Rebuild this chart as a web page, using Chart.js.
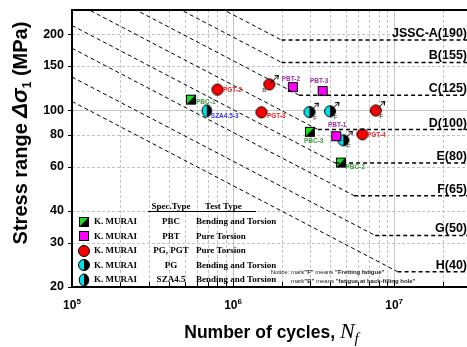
<!DOCTYPE html>
<html>
<head>
<meta charset="utf-8">
<script src="https://cdn.jsdelivr.net/npm/chart.js@4"></script>
<style>
  html, body { margin: 0; padding: 0; background: #fff; overflow: hidden; }
  #wrap { width: 471px; height: 347px; }
</style>
</head>
<body>
<div id="wrap"><canvas id="sn-chart" width="471" height="347"></canvas></div>
<script>
const chartEl = document.getElementById("sn-chart");

// JSSC design S-N curves: start at 1e5 cycles, knee, then flat to the right edge
const curveNames = ["JSSC-A(190)", "B(155)", "C(125)", "D(100)", "E(80)", "F(65)", "G(50)", "H(40)"];
const curveStartCycles = 1e5;
const curveEndCycles = 3e7;
const curveStartStress = [515.7, 420.7, 339.3, 271.4, 217.1, 176.4, 135.7, 108.6];
const curveKneeCycles = [2.0e6, 2.0e6, 2.57e6, 3.37e6, 4.3e6, 5.64e6, 7.63e6, 1.05e7];
const curveCutoffStress = [190, 155, 115, 84, 62, 46, 32, 23];

// test results (K. MURAI)
const pbcCycles = [5.48e5, 3.0e6, 4.67e6];
const pbcStress = [110.4, 82.3, 62.2];
const pbcNames = ["PBC-1", "PBC-3", "PBC-2"];

const pbtCycles = [2.35e6, 3.6e6, 4.37e6];
const pbtStress = [123.8, 119.4, 79.1];
const pbtNames = ["PBT-2", "PBT-3", "PBT-1"];

const pgtCycles = [8.0e5, 1.5e6, 1.68e6, 6.35e6, 7.69e6];
const pgtStress = [121, 98.4, 126.9, 80.5, 100];
const pgtNames = ["PGT-2", "PGT-3", "", "PGT-4", ""];
const pgtMarks = ["", "", "B", "", "F"];

const pgCycles = [2.98e6, 4.0e6, 4.84e6];
const pgStress = [98.6, 99.3, 76.2];
const pgMarks = ["F", "F", "F"];

const szaCycles = [6.87e5];
const szaStress = [99.8];
const szaNames = ["SZA4.5-3"];

// axes
const xMajor = [1e5, 1e6, 1e7];
const xMinor = [2e5, 3e5, 4e5, 5e5, 6e5, 7e5, 8e5, 9e5,
                2e6, 3e6, 4e6, 5e6, 6e6, 7e6, 8e6, 9e6, 2e7, 3e7];
const xExponents = ["5", "6", "7"];
const yTicks = [20, 30, 40, 60, 80, 100, 150, 200];

// legend table
const legendAuthors = ["K. MURAI", "K. MURAI", "K. MURAI", "K. MURAI", "K. MURAI"];
const legendSpec = ["PBC", "PBT", "PG, PGT", "PG", "SZA4.5"];
const legendTest = ["Bending and Torsion", "Pure Torsion", "Pure Torsion", "Bending and Torsion", "Bending and Torsion"];
const legendKinds = ["pbc", "pbt", "pgt", "pg", "sza"];

// label offsets (px) relative to the marker: [dx, dy, align]
const labelPlace = {
  "PBC-1": [5, 3, "left"], "PBC-3": [-6, 9.5, "left"], "PBC-2": [4.5, 4.5, "left"],
  "PBT-2": [-2, -8, "center"], "PBT-3": [-3.5, -9.5, "center"], "PBT-1": [1, -11, "center"],
  "PGT-2": [5.5, 0.8, "left"], "PGT-3": [5.5, 3.7, "left"], "PGT-4": [4.5, 0.8, "left"],
  "SZA4.5-3": [4, 5, "left"],
};
const labelColor = { pbc: "#3c9a3c", pbt: "#a02ca8", pgt: "#ff2020", sza: "#3535f0" };

const SANS = "'Liberation Sans', Arial, sans-serif";
const SERIF = "'Liberation Serif', 'Times New Roman', serif";

function makeMarker(kind) {
  const c = document.createElement("canvas");
  c.width = 14;
  c.height = 14;
  const g = c.getContext("2d");
  g.lineWidth = 1;
  g.strokeStyle = "#000";
  if (kind === "pbc") {
    g.fillStyle = "#000";
    g.fillRect(2, 2, 10, 10);
    g.fillStyle = "#1ee01e";
    g.beginPath();
    g.moveTo(2, 2); g.lineTo(12, 2); g.lineTo(2, 12);
    g.closePath();
    g.fill();
    g.strokeRect(2.5, 2.5, 9, 9);
  } else if (kind === "pbt") {
    g.fillStyle = "#ff00ff";
    g.fillRect(2, 2, 10, 10);
    g.strokeRect(2.5, 2.5, 9, 9);
  } else if (kind === "pgt") {
    g.fillStyle = "#ff0000";
    g.beginPath(); g.arc(7, 7, 5.5, 0, Math.PI * 2); g.fill(); g.stroke();
  } else {
    const rx = kind === "sza" ? 4.8 : 5.5;
    const ry = kind === "sza" ? 6 : 5.5;
    g.fillStyle = "#00e0ea";
    g.beginPath(); g.ellipse(7, 7, rx, ry, 0, Math.PI / 2, Math.PI * 1.5); g.fill();
    g.fillStyle = "#000";
    g.beginPath(); g.ellipse(7, 7, rx, ry, 0, -Math.PI / 2, Math.PI / 2); g.fill();
    g.beginPath(); g.ellipse(7, 7, rx, ry, 0, 0, Math.PI * 2); g.stroke();
  }
  return c;
}
const markers = {};
legendKinds.forEach((k) => { markers[k] = makeMarker(k); });

const curveSets = curveNames.map((name, i) => ({
  type: "line",
  label: name,
  data: [
    { x: curveStartCycles, y: curveStartStress[i] },
    { x: curveKneeCycles[i], y: curveCutoffStress[i] },
    { x: curveEndCycles, y: curveCutoffStress[i] },
  ],
  borderColor: "#000",
  borderWidth: 1,
  borderDash: [4, 3],
  segment: { borderWidth: (s) => (s.p0DataIndex === 1 ? 1.5 : 1) },
  pointRadius: 0,
  fill: false,
  tension: 0,
}));

function pointSet(label, kind, xs, ys, names, marks) {
  return {
    type: "scatter",
    label: label,
    kind: kind,
    names: names || [],
    marks: marks || [],
    data: xs.map((v, i) => ({ x: v, y: ys[i] })),
    pointStyle: markers[kind],
    pointRadius: 6,
    hoverRadius: 6,
  };
}

const pointSets = [
  pointSet("PBC", "pbc", pbcCycles, pbcStress, pbcNames),
  pointSet("PBT", "pbt", pbtCycles, pbtStress, pbtNames),
  pointSet("PG", "pg", pgCycles, pgStress, null, pgMarks),
  pointSet("SZA4.5", "sza", szaCycles, szaStress, szaNames),
  pointSet("PG, PGT", "pgt", pgtCycles, pgtStress, pgtNames, pgtMarks),
];

function richText(ctx, x, y, parts) {
  // parts: [text, font, dy]
  let cx = x;
  parts.forEach(([t, f, dy]) => {
    ctx.font = f;
    ctx.fillText(t, cx, y + (dy || 0));
    cx += ctx.measureText(t).width;
  });
  return cx - x;
}
function richWidth(ctx, parts) {
  let w = 0;
  parts.forEach(([t, f]) => { ctx.font = f; w += ctx.measureText(t).width; });
  return w;
}

function noPad(s) {
  s.paddingTop = 0;
  s.paddingBottom = 0;
  s.paddingLeft = 0;
  s.paddingRight = 0;
}

const decor = {
  id: "snDecor",
  beforeDatasetsDraw(chart) {
    const { ctx, chartArea: a, scales: { x, y } } = chart;
    ctx.save();
    ctx.beginPath();
    ctx.rect(a.left, a.top, a.right - a.left, a.bottom - a.top);
    ctx.clip();
    ctx.strokeStyle = "#c4c4c4";
    ctx.lineWidth = 1;
    xMinor.concat(xMajor.slice(1)).forEach((v) => {
      const px = Math.round(x.getPixelForValue(v)) + 0.5;
      ctx.setLineDash(xMajor.includes(v) ? [] : [3, 2]);
      ctx.beginPath(); ctx.moveTo(px, a.top); ctx.lineTo(px, a.bottom); ctx.stroke();
    });
    yTicks.slice(1).forEach((v) => {
      const py = Math.round(y.getPixelForValue(v)) + 0.5;
      ctx.setLineDash(v === 100 ? [] : [3, 2]);
      ctx.beginPath(); ctx.moveTo(a.left, py); ctx.lineTo(a.right, py); ctx.stroke();
    });
    ctx.restore();
  },
  afterDatasetsDraw(chart) {
    const { ctx, chartArea: a, scales: { x, y } } = chart;
    ctx.save();

    // run-out arrows, marks and specimen labels
    chart.data.datasets.forEach((ds, di) => {
      if (!ds.kind) return;
      const meta = chart.getDatasetMeta(di);
      meta.data.forEach((pt, i) => {
        const mark = ds.marks[i];
        if (mark) {
          const tx = pt.x + 9, ty = pt.y - 9;
          ctx.strokeStyle = "#000";
          ctx.lineWidth = 1;
          ctx.setLineDash([]);
          ctx.beginPath();
          ctx.moveTo(pt.x, pt.y); ctx.lineTo(tx, ty);
          ctx.moveTo(tx - 4, ty + 0.5); ctx.lineTo(tx, ty); ctx.lineTo(tx - 0.5, ty + 4);
          ctx.stroke();
          ctx.fillStyle = "#333";
          ctx.font = "6px " + SANS;
          ctx.textAlign = "center";
          ctx.textBaseline = "middle";
          if (mark === "B") ctx.fillText("B", pt.x - 5, pt.y + 5.5);
          else ctx.fillText("F", pt.x + 5.5, pt.y + 6);
        }
        const name = ds.names[i];
        if (name) {
          const [dx, dy, al] = labelPlace[name];
          ctx.fillStyle = labelColor[ds.kind];
          ctx.font = "bold 6.5px " + SANS;
          ctx.textAlign = al;
          ctx.textBaseline = "middle";
          ctx.fillText(name, pt.x + dx, pt.y + dy);
        }
      });
    });

    // curve names above the flat parts
    ctx.fillStyle = "#000";
    ctx.font = "bold 12.5px " + SANS;
    ctx.textAlign = "right";
    ctx.textBaseline = "alphabetic";
    curveNames.forEach((n, i) => {
      ctx.fillText(n, 467, y.getPixelForValue(curveCutoffStress[i]) - 3);
    });

    // legend table
    ctx.textBaseline = "middle";
    ctx.font = "bold 9px " + SERIF;
    ctx.textAlign = "center";
    ctx.fillText("Spec.Type", 171, 206.5);
    ctx.textAlign = "left";
    ctx.fillText("Test Type", 205, 206.5);
    ctx.strokeStyle = "#000";
    ctx.lineWidth = 1;
    ctx.beginPath(); ctx.moveTo(148, 211.5); ctx.lineTo(256, 211.5); ctx.stroke();
    legendKinds.forEach((k, i) => {
      const ry = 221.7 + i * 14.5;
      ctx.drawImage(markers[k], 84 - 7, Math.round(ry) - 7);
      ctx.fillStyle = "#000";
      ctx.font = "bold 9px " + SERIF;
      ctx.textAlign = "left";
      ctx.fillText(legendAuthors[i], 94, ry);
      ctx.textAlign = "center";
      ctx.fillText(legendSpec[i], 171, ry);
      ctx.textAlign = "left";
      ctx.fillText(legendTest[i], 196, ry);
    });

    // notice
    const nReg = "6px " + SANS, nBold = "bold 6px " + SANS;
    ctx.fillStyle = "#222";
    ctx.textBaseline = "middle";
    ctx.textAlign = "right";
    ctx.font = nReg;
    ctx.fillText("Notice: ", 291, 272.7);
    ctx.textAlign = "left";
    richText(ctx, 291, 272.7, [["mark", nReg], ["\"F\"", nBold], [" means ", nReg], ["\"Fretting fatigue\"", nBold]]);
    richText(ctx, 291, 281, [["mark", nReg], ["\"B\"", nBold], [" means ", nReg], ["\"fatigue at back-filling hole\"", nBold]]);

    // frame and axis ticks
    ctx.strokeStyle = "#000";
    ctx.lineWidth = 2;
    ctx.strokeRect(a.left, a.top, a.right - a.left, a.bottom - a.top);
    ctx.lineWidth = 1;
    ctx.beginPath();
    xMinor.concat(xMajor).forEach((v) => {
      const px = Math.round(x.getPixelForValue(v)) + 0.5;
      const len = xMajor.includes(v) ? 7 : 5;
      ctx.moveTo(px, a.bottom); ctx.lineTo(px, a.bottom - len);
    });
    yTicks.forEach((v) => {
      const py = Math.round(y.getPixelForValue(v)) + 0.5;
      ctx.moveTo(a.left, py); ctx.lineTo(a.left - 4, py);
    });
    ctx.stroke();

    // y tick labels
    ctx.fillStyle = "#000";
    ctx.font = "bold 12.5px " + SANS;
    ctx.textAlign = "right";
    ctx.textBaseline = "middle";
    yTicks.forEach((v) => {
      ctx.fillText(String(v), a.left - 8, y.getPixelForValue(v));
    });

    // x tick labels 10^n
    ctx.textAlign = "left";
    ctx.textBaseline = "alphabetic";
    xMajor.forEach((v, i) => {
      const parts = [["10", "bold 12px " + SANS, 0], [xExponents[i], "bold 8px " + SANS, -5]];
      const w = richWidth(ctx, parts);
      richText(ctx, x.getPixelForValue(v) - w / 2, 308.5, parts);
    });

    // x title
    const xt = [
      ["Number of cycles, ", "bold 17.5px " + SANS, 0],
      ["N", "italic 22px " + SERIF, 0],
      ["f", "italic 15px " + SERIF, 5],
    ];
    const xw = richWidth(ctx, xt);
    richText(ctx, (a.left + 471) / 2 - xw / 2, 338, xt);

    // y title (rotated)
    const yt = [
      ["Stress range ", "bold 20px " + SANS, 0],
      ["\u0394\u03c3", "italic bold 22px " + SANS, 0],
      ["1", "bold 12px " + SANS, 4],
      [" (MPa)", "bold 20px " + SANS, 0],
    ];
    const yw = richWidth(ctx, yt);
    ctx.translate(27, 133);
    ctx.rotate(-Math.PI / 2);
    richText(ctx, -yw / 2, 0, yt);
    ctx.restore();
  },
};

new Chart(chartEl, {
  data: { datasets: curveSets.concat(pointSets) },
  options: {
    responsive: false,
    animation: false,
    layout: { autoPadding: false, padding: { top: 10, right: 0, left: 72, bottom: 60 } },
    plugins: { legend: { display: false }, tooltip: { enabled: false } },
    scales: {
      x: {
        type: "logarithmic",
        min: 1e5,
        max: 3e7,
        afterBuildTicks: (s) => { s.ticks = xMajor.map((v) => ({ value: v })); },
        afterFit: (s) => { s.height = 0; noPad(s); },
        ticks: { display: false },
        grid: { display: false, drawTicks: false },
        border: { display: false },
      },
      y: {
        type: "logarithmic",
        min: 20,
        max: 250,
        afterBuildTicks: (s) => { s.ticks = yTicks.map((v) => ({ value: v })); },
        afterFit: (s) => { s.width = 0; noPad(s); },
        ticks: { display: false },
        grid: { display: false, drawTicks: false },
        border: { display: false },
      },
    },
  },
  plugins: [decor],
});
</script>
</body>
</html>
